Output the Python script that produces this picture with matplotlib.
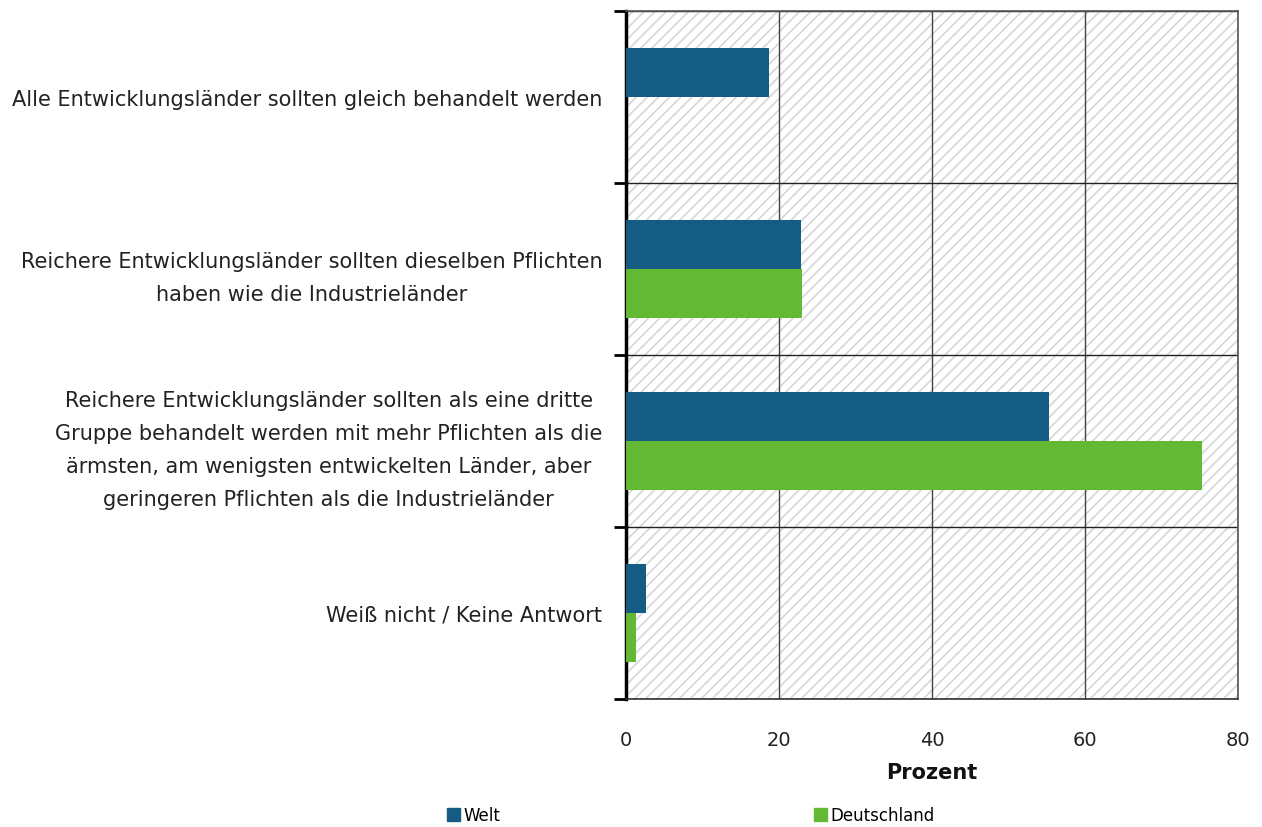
import numpy as np
import matplotlib
matplotlib.use("Agg")
import matplotlib.pyplot as plt
from matplotlib.patches import Patch

# ---------------------------------------------------- #
categories = [
    "Alle Entwicklungsländer sollten gleich behandelt werden",
    "Reichere Entwicklungsländer sollten dieselben Pflichten\nhaben wie die Industrieländer",
    "Reichere Entwicklungsländer sollten als eine dritte\nGruppe behandelt werden mit mehr Pflichten als die\n"
    "ärmsten, am wenigsten entwickelten Länder, aber\ngeringeren Pflichten als die Industrieländer",
    "Weiß nicht / Keine Antwort",
]
welt = [18.7, 22.9, 55.3, 2.6]
deutschland = [0.0, 23.0, 75.3, 1.3]
series_names = ["Welt", "Deutschland"]
xticks = [0, 20, 40, 60, 80]

C_WELT = "#145c84"
C_DE = "#63b934"

plt.rcParams["font.family"] = ["DejaVu Sans"]
plt.rcParams["hatch.color"] = "#d6d6d6"
plt.rcParams["hatch.linewidth"] = 1.2

# ---------------------------------------------------- #
fig = plt.figure(figsize=(12.62, 8.28), dpi=100)
ax = fig.add_axes([0.496, 0.1546, 0.485, 0.831])

y = np.arange(len(categories))
h = 0.285
ax.patch.set_facecolor("white")
ax.patch.set_hatch("///")
ax.patch.set_edgecolor("#d6d6d6")

ax.barh(y - h / 2, welt, height=h, color=C_WELT, linewidth=0, zorder=3)
ax.barh(y + h / 2, deutschland, height=h, color=C_DE, linewidth=0, zorder=3)

ax.set_xlim(0, 80)
ax.set_ylim(len(categories) - 0.5, -0.5)

ax.set_xticks(xticks)
ax.set_xticklabels([str(v) for v in xticks], fontsize=14, color="#222222")
ax.tick_params(axis="x", length=0, pad=22)
ax.xaxis.grid(True, color="#444444", linewidth=1.0, zorder=1)

ax.set_yticks(y)
ax.set_yticklabels(categories, fontsize=15, color="#222222", multialignment="center", linespacing=1.8)
ax.tick_params(axis="y", which="major", length=0, pad=17)
ax.set_yticks(np.arange(-0.5, len(categories)), minor=True)
ax.tick_params(axis="y", which="minor", length=9, width=2, color="black", direction="out")
ax.yaxis.grid(True, which="minor", color="#222222", linewidth=1.0, zorder=1)
ax.set_axisbelow(True)

ax.spines["left"].set_linewidth(2.5)
ax.spines["left"].set_color("black")
ax.spines["top"].set_color("#555555")
ax.spines["right"].set_color("#555555")
ax.spines["bottom"].set_color("#333333")
for s in ["top", "right", "bottom"]:
    ax.spines[s].set_linewidth(1.2)

ax.set_xlabel("Prozent", fontsize=15, fontweight="bold", labelpad=10, color="#111111")

handles = [Patch(color=C_WELT), Patch(color=C_DE)]
fig.legend(handles, series_names, loc="center left", bbox_to_anchor=(0.349, 0.014),
           ncol=2, frameon=False, fontsize=12, handlelength=0.8, handleheight=0.8,
           handletextpad=0.2, columnspacing=18.8, borderaxespad=0)

fig.savefig("out.png", dpi=100)
